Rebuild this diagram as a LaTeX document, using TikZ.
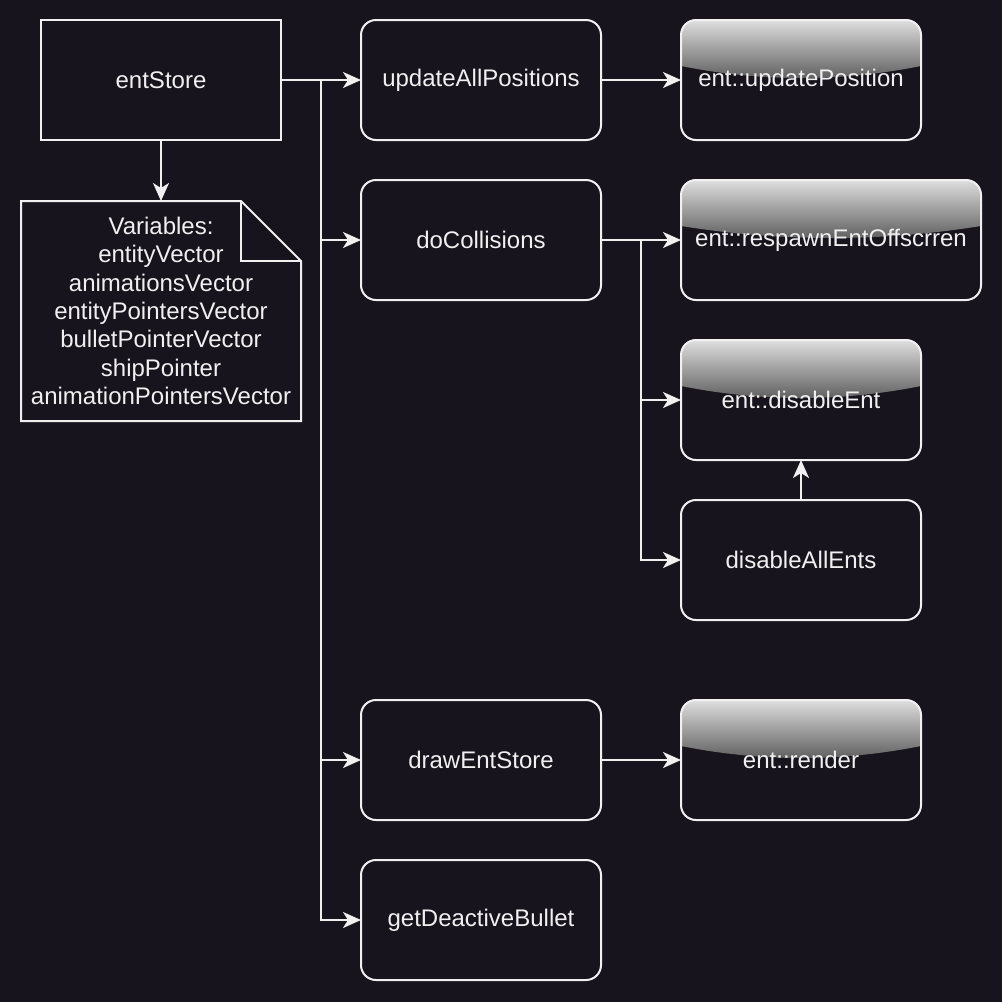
\documentclass[tikz,border=0pt]{standalone}
\usepackage{fontspec}
\setmainfont{Liberation Sans}
\usetikzlibrary{arrows.meta,backgrounds,calc}
\definecolor{bg}{HTML}{18141D}
\definecolor{fg}{HTML}{F0F0F0}
\definecolor{glosstop}{RGB}{222,222,222}
\definecolor{glossbot}{RGB}{88,88,88}
\newcommand\glossy[1]{%
  \begin{scope}
    \clip[rounded corners=7.5pt] (#1.north west) rectangle (#1.south east);
    \shade[top color=glosstop,bottom color=glossbot]
      (#1.north west) -- ([yshift=-23pt]#1.north west)
      .. controls ($(#1.north west)!0.333!(#1.north east)+(0,-31pt)$)
      and ($(#1.north west)!0.667!(#1.north east)+(0,-31pt)$)
      .. ([yshift=-23pt]#1.north east) -- (#1.north east) -- cycle;
  \end{scope}}
\begin{document}
\begin{tikzpicture}[x=0.5pt,y=-0.5pt,
  txt/.style={text=fg,font=\fontsize{12pt}{14.15pt}\selectfont,align=center},
  sqbox/.style={txt,draw=fg,line width=1pt,minimum width=120pt,minimum height=60pt,inner sep=0pt,outer sep=0pt},
  rbox/.style={sqbox,rounded corners=7.5pt},
  wbox/.style={rbox,minimum width=150pt},
  conn/.style={draw=fg,line width=1pt,-{Stealth[length=9pt,width=8pt,inset=2.5pt]}}]
\useasboundingbox (0,0) rectangle (1002,1002);
\begin{pgfonlayer}{background}
  \fill[bg] (0,0) rectangle (1002,1002);
\end{pgfonlayer}
% column 1
\node[sqbox] (entStore) at (161,80) {entStore};
\node[txt,minimum width=140pt,minimum height=110pt,inner sep=0pt,outer sep=0pt] (note) at (161,311)
  {Variables:\\entityVector\\animationsVector\\entityPointersVector\\bulletPointerVector\\shipPointer\\animationPointersVector};
\draw[fg,line width=1pt] (note.north west) -- ([xshift=-30pt]note.north east) -- ([yshift=-30pt]note.north east)
  -- (note.south east) -- (note.south west) -- cycle;
\draw[fg,line width=1pt] ([xshift=-30pt]note.north east) -- ([xshift=-30pt,yshift=-30pt]note.north east) -- ([yshift=-30pt]note.north east);
% column 2
\node[rbox] (uap) at (481,80) {updateAllPositions};
\node[rbox] (doc) at (481,240) {doCollisions};
\node[rbox] (des) at (481,760) {drawEntStore};
\node[rbox] (gdb) at (481,920) {getDeactiveBullet};
% column 3
\node[rbox] (eup) at (801,80) {ent::updatePosition};
\node[wbox] (resp) at (831,240) {ent::respawnEntOffscrren};
\node[rbox] (dis) at (801,400) {ent::disableEnt};
\node[rbox] (dae) at (801,560) {disableAllEnts};
\node[rbox] (rend) at (801,760) {ent::render};
\begin{pgfonlayer}{background}
  \glossy{eup}\glossy{resp}\glossy{dis}\glossy{rend}
\end{pgfonlayer}
% connectors
\coordinate (t0) at (321,80);
\coordinate (t1) at (641,240);
\draw[conn] (entStore.south) -- (note.north);
\draw[conn] (entStore.east) -- (uap.west);
\draw[conn] (t0) |- (doc.west);
\draw[conn] (t0) |- (des.west);
\draw[conn] (t0) |- (gdb.west);
\draw[conn] (uap.east) -- (eup.west);
\draw[conn] (doc.east) -- (resp.west);
\draw[conn] (t1) |- (dis.west);
\draw[conn] (t1) |- (dae.west);
\draw[conn] (dae.north) -- (dis.south);
\draw[conn] (des.east) -- (rend.west);
\end{tikzpicture}
\end{document}
